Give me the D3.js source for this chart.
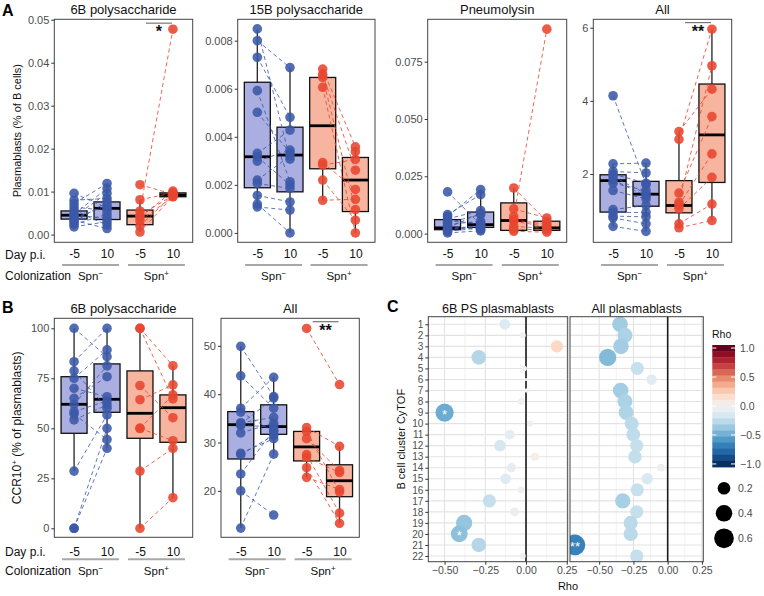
<!DOCTYPE html>
<html><head><meta charset="utf-8">
<script src="https://cdn.jsdelivr.net/npm/d3@7"></script>
<style>
body{margin:0;background:#fff}
svg{display:block}
text{font-family:"Liberation Sans",Arial,Helvetica,sans-serif}
</style>
</head><body>
<svg id="c" width="764" height="596"></svg>
<script>
// ---------- DATA ----------
const groupKeys = ["neg_pre","neg_post","pos_pre","pos_post"];
const dayLabels = ["-5","10","-5","10"];
const colonLabels = ["Spn","Spn"];
const colonSup = ["\u2212","+"];

// Panel A – 6B polysaccharide (plasmablasts, % of B cells)
const a6bNegPre  = [0.0096,0.0080,0.0072,0.0064,0.0056,0.0048,0.0045,0.0042,0.0037,0.0033,0.0029,0.0024,0.0018];
const a6bNegPost = [0.0062,0.0084,0.0119,0.0056,0.0022,0.0107,0.0038,0.0096,0.0068,0.0014,0.0076,0.0047,0.0030];
const a6bPosPre  = [0.0116,0.0081,0.0055,0.0045,0.0040,0.0032,0.0020,0.0006];
const a6bPosPost = [0.0094,0.0097,0.0478,0.0091,0.0101,0.0088,0.0092,0.0089];
const a6bBoxes   = [[0.0018,0.0036,0.0045,0.0055,0.0080],[0.0014,0.0035,0.0061,0.0076,0.0119],[0.0006,0.0023,0.0043,0.0057,0.0081],[0.0086,0.0088,0.0092,0.0097,0.0101]];
const a6bTicks   = [0,0.01,0.02,0.03,0.04,0.05];

// Panel A – 15B polysaccharide
const a15NegPre  = [0.00849,0.0080,0.00731,0.00592,0.00502,0.00331,0.00317,0.00299,0.0022,0.00206,0.00156,0.0012,0.00108];
const a15NegPost = [0.00307,0.00688,0.00481,0.00213,0.00333,0.00428,0.0020,0.00345,0.0032,0.00185,0.00129,0.0,0.00095];
const a15PosPre  = [0.00682,0.0066,0.00647,0.00606,0.00293,0.00282,0.0022,0.00136];
const a15PosPost = [0.00358,0.00261,0.00097,0.0,0.00181,0.00306,0.00053,0.0014,0.00338];
const a15Boxes   = [[0.00108,0.00188,0.00317,0.00627,0.00849],[0.0,0.00171,0.00324,0.0044,0.00688],[0.00136,0.00267,0.00446,0.00647,0.00682],[0.0,0.00089,0.0022,0.00314,0.00358]];
const a15Ticks   = [0,0.002,0.004,0.006,0.008];

// Panel A – Pneumolysin
const aPlyNegPre  = [0.0182,0.0083,0.0075,0.0064,0.0055,0.0047,0.0040,0.0032,0.0025,0.0020,0.0017,0.0010,0.0003];
const aPlyNegPost = [0.0039,0.0170,0.0192,0.0101,0.0045,0.0083,0.0054,0.0017,0.0088,0.0035,0.0030,0.0025,0.0012];
const aPlyPosPre  = [0.0199,0.0108,0.0075,0.0060,0.0054,0.0032,0.0020,0.0010];
const aPlyPosPost = [0.0054,0.0068,0.0892,0.0040,0.0030,0.0022,0.0015,0.0006];
const aPlyBoxes   = [[0.0003,0.0017,0.0025,0.0061,0.0083],[0.0012,0.0027,0.0039,0.0094,0.0192],[0.0010,0.0014,0.0057,0.0134,0.0199],[0.0006,0.0014,0.0025,0.0054,0.0068]];
const aPlyTicks   = [0,0.025,0.05,0.075];

// Panel A – All
const aAllNegPre  = [4.14,2.28,2.07,2.00,1.93,1.84,1.75,1.55,1.03,0.95,0.85,0.80,0.57];
const aAllNegPost = [1.71,2.30,2.03,1.75,1.46,1.40,1.55,1.32,1.14,0.95,0.83,0.64,0.43];
const aAllPosPre  = [3.16,2.95,1.48,1.23,1.15,1.05,0.64,0.53];
const aAllPosPost = [4.32,5.96,3.57,4.96,2.55,1.91,1.18,0.73];
const aAllBoxes   = [[0.57,0.96,1.82,1.98,2.28],[0.43,1.12,1.45,1.80,2.30],[0.53,0.94,1.14,1.82,3.16],[0.73,1.77,3.07,4.46,5.96]];
const aAllTicks   = [2,4,6];

// Panel B – 6B polysaccharide (CCR10+ % of plasmablasts)
const b6bNegPre  = [100,83.3,78.7,75,70,65,62,58.3,57.1,54.2,28.6,0,0];
const b6bNegPost = [85.8,100,60,89.2,65.8,75.8,81.2,63.7,44.4,61.7,56.7,50,40];
const b6bPosPre  = [100,100,71.4,64.3,50,50,28.6,0];
const b6bPosPost = [81.3,64.7,55.3,71.7,43.8,66.7,40,15.3];
const b6bBoxes   = [[28.6,47.5,62,75.8,100],[40,58,64.5,82.2,100],[0,45,57.5,78.7,100],[15.3,43,60.3,66.7,81.3]];
const b6bTicks   = [0,25,50,75,100];

// Panel B – All
const bAllNegPre  = [49.9,43.8,37.1,36.3,34.1,33.8,33.5,32,27.8,27.5,23.5,20,12.3];
const bAllNegPost = [39.5,37.1,43.5,32.3,35.2,39.2,33.3,34,30.8,31.5,32.6,15,27.6];
const bAllPosPre  = [53.6,33.1,32.3,30.8,27.5,26.9,24.8,22.8];
const bAllPosPost = [42,29.2,19.8,24.2,15.4,23.8,13.3,20.3];
const bAllBoxes   = [[12.3,26.6,33.7,36.4,49.9],[27.6,31.7,33.3,37.8,43.5],[22.8,26.2,29.1,32.3,33.1],[13.3,18.8,22.1,25.4,29.2]];
const bAllTicks   = [20,30,40,50];

// Panel C – correlation with B cell clusters
const clusters = d3.range(1,23).map(String);
const rho6B  = [-0.13,-0.02,0.19,-0.29,-0.01,0.0,0.005,-0.03,-0.50,0.025,-0.10,-0.16,0.055,-0.09,-0.125,-0.03,-0.225,-0.07,-0.38,-0.41,-0.29,-0.02];
const sig6B  = ["","","","","","","","","*","","","","","","","","","","","*","",""];
const rhoAll = [-0.348,-0.312,-0.341,-0.438,-0.222,-0.117,-0.343,-0.312,-0.304,-0.263,-0.251,-0.226,-0.239,-0.049,-0.149,-0.222,-0.328,-0.226,-0.27,-0.27,-0.677,-0.226];
const sigAll = ["","","","","","","","","","","","","","","","","","","","","**",""];
const rhoTicks = [-0.5,-0.25,0,0.25];
const rhoMinor = [-0.625,-0.375,-0.125,0.125];
const legendRho = [1.0,0.5,0.0,-0.5,-1.0];
const legendSize = [0.2,0.4,0.6];

// ---------- STYLE ----------
const BLUE = "#3b59a7", RED = "#e8452f";
const BLUE_FILL = "#aaaee0", RED_FILL = "#f7b5a0";
const GRAY_T = "#4d4d4d";
const svg = d3.select("#c");

function spnLabel(g, cx, cy, i, size){
  const t = g.append("text").attr("x",cx).attr("y",cy).attr("text-anchor","middle")
    .attr("font-size",size).attr("fill","#111").text(colonLabels[i]);
  t.append("tspan").attr("dy",-4).attr("font-size",size*0.7).text(colonSup[i]);
}

function boxPanel(o){
  const x = d3.scalePoint().domain(groupKeys).range([o.left,o.right]).padding(0.6);
  const y = d3.scaleLinear().domain(o.domain).range([o.bottom,o.top]);
  const g = svg.append("g");
  const bw = 26;
  const series = o.data;
  o.boxes.forEach((b,i)=>{
    const cx = x(groupKeys[i]);
    const fill = i<2 ? BLUE_FILL : RED_FILL;
    g.append("line").attr("x1",cx).attr("x2",cx).attr("y1",y(b[0])).attr("y2",y(b[4]))
      .attr("stroke","#222").attr("stroke-width",1.3);
    g.append("rect").attr("x",cx-bw/2).attr("y",y(b[3])).attr("width",bw)
      .attr("height",Math.max(1,y(b[1])-y(b[3]))).attr("fill",fill)
      .attr("stroke","#111").attr("stroke-width",1.3);
    g.append("line").attr("x1",cx-bw/2).attr("x2",cx+bw/2).attr("y1",y(b[2])).attr("y2",y(b[2]))
      .attr("stroke","#000").attr("stroke-width",2.8);
  });
  [[0,1,BLUE],[2,3,RED]].forEach(([a,b,c])=>{
    const n = Math.min(series[a].length, series[b].length);
    for(let i=0;i<n;i++){
      g.append("line").attr("x1",x(groupKeys[a])).attr("x2",x(groupKeys[b]))
        .attr("y1",y(series[a][i])).attr("y2",y(series[b][i]))
        .attr("stroke",c).attr("stroke-width",0.9).attr("stroke-dasharray","4,3").attr("opacity",0.9);
    }
  });
  series.forEach((arr,i)=>{
    g.selectAll(null).data(arr).enter().append("circle")
      .attr("cx",x(groupKeys[i])).attr("cy",d=>y(d)).attr("r",4.8)
      .attr("fill", i<2?BLUE:RED).attr("fill-opacity",0.88);
  });
  g.append("rect").attr("x",o.left).attr("y",o.top).attr("width",o.right-o.left).attr("height",o.bottom-o.top)
    .attr("fill","none").attr("stroke","#444").attr("stroke-width",1);
  // y axis
  const ya = g.append("g").attr("transform",`translate(${o.left},0)`)
    .call(d3.axisLeft(y).tickValues(o.ticks).tickFormat(d3.format(o.fmt)).tickSize(3).tickPadding(2));
  ya.select(".domain").remove();
  ya.selectAll(".tick line").attr("stroke","#333");
  ya.selectAll(".tick text").attr("fill",GRAY_T).attr("font-size",11).attr("font-family",null);
  // x axis (day labels)
  const xa = g.append("g").attr("transform",`translate(0,${o.bottom})`)
    .call(d3.axisBottom(x).tickFormat((d,i)=>dayLabels[i]).tickSize(0).tickPadding(o.dayY-o.bottom-4.5));
  xa.select(".domain").remove();
  xa.selectAll(".tick text").attr("fill","#111").attr("font-size",12).attr("font-family",null);
  // colonization groups
  [[0,1],[2,3]].forEach(([a,b],k)=>{
    const cx = (x(groupKeys[a])+x(groupKeys[b]))/2;
    g.append("line").attr("x1",cx-28.5).attr("x2",cx+28.5).attr("y1",o.lineY).attr("y2",o.lineY)
      .attr("stroke","#a8a8a8").attr("stroke-width",2);
    spnLabel(g, cx, o.colY+4.2, k, 11.5);
  });
  // title
  g.append("text").attr("x",(o.left+o.right)/2).attr("y",o.titleY).attr("text-anchor","middle")
    .attr("font-size",13).attr("fill","#111").text(o.title);
  // significance
  if(o.sig){
    const x1 = x(groupKeys[2])+6, x2 = x(groupKeys[3])-1;
    g.append("line").attr("x1",x1).attr("x2",x2).attr("y1",y(o.sig.v)).attr("y2",y(o.sig.v))
      .attr("stroke","#777").attr("stroke-width",1.2);
    g.append("text").attr("x",(x1+x2)/2).attr("y",y(o.sig.v)+14).attr("text-anchor","middle")
      .attr("font-size",16).attr("font-weight","bold").attr("fill","#111").text(o.sig.label);
  }
  if(o.rowLabels){
    g.append("text").attr("x",5).attr("y",o.dayY+4.2).attr("font-size",12).attr("fill","#111").text("Day p.i.");
    g.append("text").attr("x",5).attr("y",o.colY+4.2).attr("font-size",12).attr("fill","#111").text("Colonization");
  }
}

const rowA = {top:19.3,bottom:242.3,dayY:254.3,lineY:265,colY:275.5,titleY:14};
const rowB = {top:318.3,bottom:537.3,dayY:551.7,lineY:559.3,colY:571,titleY:313};

boxPanel(Object.assign({},rowA,{left:54.3,right:192.7,domain:[-0.0018,0.0501],ticks:a6bTicks,fmt:".2f",
  data:[a6bNegPre,a6bNegPost,a6bPosPre,a6bPosPost],boxes:a6bBoxes,title:"6B polysaccharide",
  sig:{v:0.0492,label:"*"},rowLabels:true}));
boxPanel(Object.assign({},rowA,{left:237.7,right:375,domain:[-0.00039,0.00889],ticks:a15Ticks,fmt:".3f",
  data:[a15NegPre,a15NegPost,a15PosPre,a15PosPost],boxes:a15Boxes,title:"15B polysaccharide"}));
boxPanel(Object.assign({},rowA,{left:427.7,right:566.7,domain:[-0.0038,0.0935],ticks:aPlyTicks,fmt:".3f",
  data:[aPlyNegPre,aPlyNegPost,aPlyPosPre,aPlyPosPost],boxes:aPlyBoxes,title:"Pneumolysin"}));
boxPanel(Object.assign({},rowA,{left:593.3,right:731.7,domain:[0.134,6.23],ticks:aAllTicks,fmt:"d",
  data:[aAllNegPre,aAllNegPost,aAllPosPre,aAllPosPost],boxes:aAllBoxes,title:"All",
  sig:{v:6.14,label:"**"}}));
boxPanel(Object.assign({},rowB,{left:54.3,right:192.7,domain:[-4.5,105],ticks:b6bTicks,fmt:"d",
  data:[b6bNegPre,b6bNegPost,b6bPosPre,b6bPosPost],boxes:b6bBoxes,title:"6B polysaccharide",rowLabels:true}));
boxPanel(Object.assign({},rowB,{left:221,right:359.3,domain:[10.4,55.7],ticks:bAllTicks,fmt:"d",
  data:[bAllNegPre,bAllNegPost,bAllPosPre,bAllPosPost],boxes:bAllBoxes,title:"All",
  sig:{v:55.0,label:"**"}}));

// y axis titles
svg.append("text").attr("transform","translate(21,130.7) rotate(-90)").attr("text-anchor","middle")
  .attr("font-size",11).attr("fill","#111").text("Plasmablasts (% of B cells)");
const yt = svg.append("text").attr("transform","translate(21,427.8) rotate(-90)").attr("text-anchor","middle")
  .attr("font-size",12).attr("fill","#111");
yt.append("tspan").text("CCR10");
yt.append("tspan").attr("dy",-4).attr("font-size",8).text("+");
yt.append("tspan").attr("dy",4).text(" (% of plasmablasts)");

// panel letters
[["A",2,16],["B",2,313],["C",387,312]].forEach(([t,x,y])=>{
  svg.append("text").attr("x",x).attr("y",y).attr("font-size",16).attr("font-weight","bold").attr("fill","#000").text(t);
});

// ---------- Panel C ----------
const rScale = d3.scaleSqrt().domain([0,0.7]).range([1.5,10.5]);
const colorRho = v => d3.interpolateRdBu((1-v)/2);
const yC = d3.scalePoint().domain(clusters).range([324.3,556]);
const cTop = 316.7, cBottom = 561.7;

function rhoPanel(o){
  const x = d3.scaleLinear().domain(o.domain).range([o.left,o.right]);
  const g = svg.append("g");
  g.append("rect").attr("x",o.left).attr("y",cTop).attr("width",o.right-o.left).attr("height",cBottom-cTop).attr("fill","#fff");
  rhoMinor.filter(v=>v>o.domain[0]&&v<o.domain[1]).forEach(v=>{
    g.append("line").attr("x1",x(v)).attr("x2",x(v)).attr("y1",cTop).attr("y2",cBottom).attr("stroke","#ececec").attr("stroke-width",0.7);
  });
  rhoTicks.forEach(v=>{
    g.append("line").attr("x1",x(v)).attr("x2",x(v)).attr("y1",cTop).attr("y2",cBottom).attr("stroke","#e3e3e3").attr("stroke-width",1.1);
  });
  clusters.forEach(c=>{
    g.append("line").attr("x1",o.left).attr("x2",o.right).attr("y1",yC(c)).attr("y2",yC(c)).attr("stroke","#e3e3e3").attr("stroke-width",1.1);
  });
  g.append("line").attr("x1",x(0)).attr("x2",x(0)).attr("y1",cTop).attr("y2",cBottom).attr("stroke","#1a1a1a").attr("stroke-width",1.6);
  const clipId = "clip"+o.name;
  svg.append("clipPath").attr("id",clipId).append("rect").attr("x",o.left).attr("y",cTop).attr("width",o.right-o.left).attr("height",cBottom-cTop);
  const pts = g.append("g").attr("clip-path",`url(#${clipId})`);
  o.rho.forEach((v,i)=>{
    pts.append("circle").attr("cx",x(v)).attr("cy",yC(clusters[i])).attr("r",rScale(Math.abs(v))).attr("fill",colorRho(v));
    if(o.sig[i]) pts.append("text").attr("x",x(v)).attr("y",yC(clusters[i])+6).attr("text-anchor","middle")
      .attr("font-size",13).attr("fill","#fff").text(o.sig[i]);
  });
  g.append("rect").attr("x",o.left).attr("y",cTop).attr("width",o.right-o.left).attr("height",cBottom-cTop)
    .attr("fill","none").attr("stroke","#444").attr("stroke-width",1);
  const xa = g.append("g").attr("transform",`translate(0,${cBottom})`)
    .call(d3.axisBottom(x).tickValues(rhoTicks).tickFormat(d3.format(".2f")).tickSize(3).tickPadding(2));
  xa.select(".domain").remove();
  xa.selectAll(".tick line").attr("stroke","#333");
  xa.selectAll(".tick text").attr("fill",GRAY_T).attr("font-size",10.5).attr("font-family",null);
  g.append("text").attr("x",(o.left+o.right)/2).attr("y",313).attr("text-anchor","middle")
    .attr("font-size",12.5).attr("fill","#111").text(o.title);
  if(o.yAxis){
    const ya = g.append("g").attr("transform",`translate(${o.left},0)`).call(d3.axisLeft(yC).tickSize(3).tickPadding(2));
    ya.select(".domain").remove();
    ya.selectAll(".tick line").attr("stroke","#333");
    ya.selectAll(".tick text").attr("fill",GRAY_T).attr("font-size",10).attr("font-family",null);
  }
}
rhoPanel({name:"l",left:428.3,right:567.7,domain:[-0.60,0.256],rho:rho6B,sig:sig6B,title:"6B PS plasmablasts",yAxis:true});
rhoPanel({name:"r",left:570,right:703.3,domain:[-0.713,0.26],rho:rhoAll,sig:sigAll,title:"All plasmablasts"});

svg.append("text").attr("x",568).attr("y",590).attr("text-anchor","middle").attr("font-size",11).attr("fill","#111").text("Rho");
svg.append("text").attr("transform","translate(405,439.2) rotate(-90)").attr("text-anchor","middle")
  .attr("font-size",11).attr("fill","#111").text("B cell cluster CyTOF");

// legend: colour bar
const lg = svg.append("g");
lg.append("text").attr("x",712).attr("y",338).attr("font-size",10.5).attr("fill","#111").text("Rho");
const nbin = 20, barTop = 345, barBot = 467, barL = 712.3, barW = 22.7;
const binH = (barBot-barTop)/nbin;
const yLeg = d3.scaleLinear().domain([1,-1]).range([barTop+binH/2, barBot-binH/2]);
d3.range(nbin).forEach(i=>{
  const v = 1 - i*2/(nbin-1);
  lg.append("rect").attr("x",barL).attr("y",barTop+i*binH).attr("width",barW).attr("height",binH+0.4).attr("fill",colorRho(v));
});
legendRho.forEach(v=>{
  lg.append("line").attr("x1",barL).attr("x2",barL+4).attr("y1",yLeg(v)).attr("y2",yLeg(v)).attr("stroke","#fff").attr("stroke-width",1);
  lg.append("line").attr("x1",barL+barW-4).attr("x2",barL+barW).attr("y1",yLeg(v)).attr("y2",yLeg(v)).attr("stroke","#fff").attr("stroke-width",1);
  lg.append("text").attr("x",740).attr("y",yLeg(v)+4).attr("font-size",10.5).attr("fill",GRAY_T).text(d3.format(".1f")(v));
});
// legend: size
const sizeY = d3.scalePoint().domain(legendSize).range([488.3,538.3]);
legendSize.forEach(v=>{
  lg.append("circle").attr("cx",724).attr("cy",sizeY(v)).attr("r",rScale(v)).attr("fill","#000");
  lg.append("text").attr("x",738).attr("y",sizeY(v)+4).attr("font-size",10.5).attr("fill",GRAY_T).text(v.toFixed(1));
});
</script>
</body></html>
